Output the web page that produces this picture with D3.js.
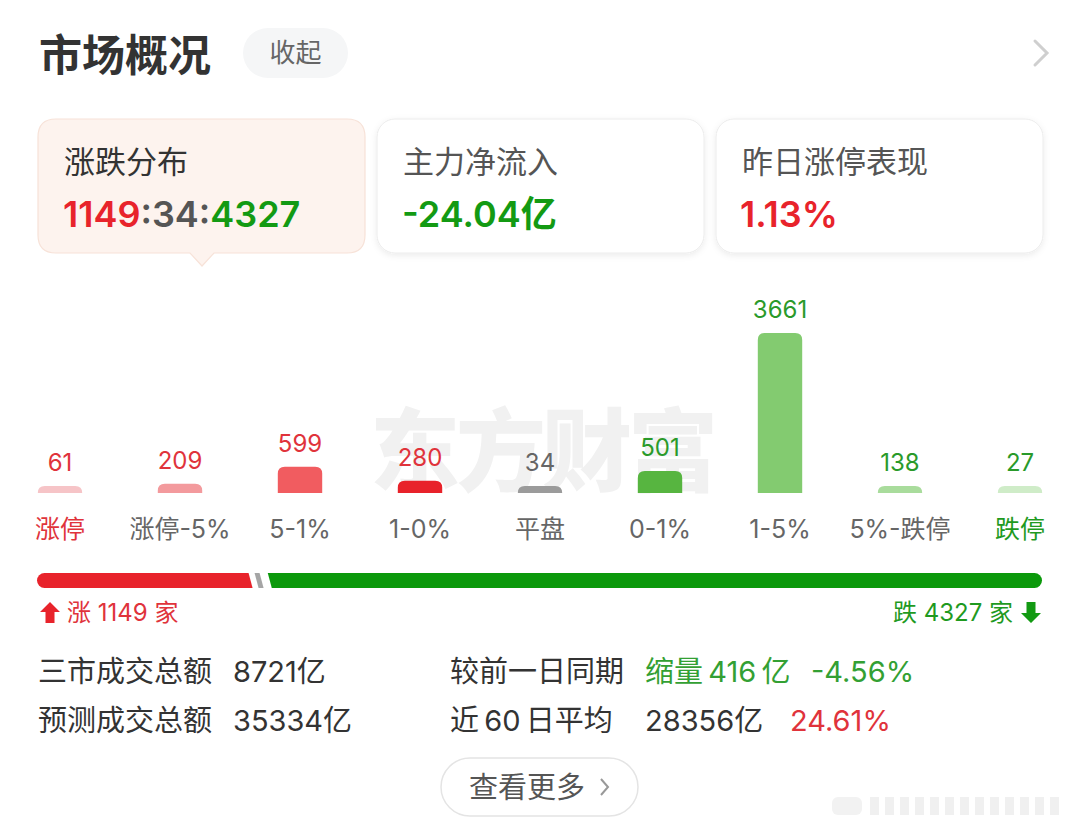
<!DOCTYPE html>
<html><head><meta charset="utf-8">
<script src="https://cdn.jsdelivr.net/npm/d3@7"></script>
<style>
html,body{margin:0;padding:0;background:#fff;}
svg{display:block;font-family:Inter,"Noto Sans CJK SC","Noto Sans",sans-serif;}
</style></head><body>
<svg id="c" width="1080" height="828"></svg>
<script>
// ---- data ----
const categories = ["涨停","涨停-5%","5-1%","1-0%","平盘","0-1%","1-5%","5%-跌停","跌停"];
const counts = [61,209,599,280,34,501,3661,138,27];
const upCount = 1149, flatCount = 34, downCount = 4327;
const cardTitles = ["涨跌分布","主力净流入","昨日涨停表现"];
const netInflow = "-24.04亿";
const limitUpPerf = "1.13%";
const turnover = "8721亿", forecast = "35334亿";
const vsPrev = "缩量\u2009416\u2009亿", vsPrevPct = "-4.56%";
const avg60 = "28356亿", avg60Pct = "24.61%";

// ---- styles ----
const barColors = ["#f6c4c7","#f39a9d","#f15c60","#e8222a","#9b9b9b","#57b540","#83cb70","#a9dc9c","#cfecc8"];
const valColors = ["#e0333b","#e0333b","#e0333b","#e0333b","#666","#2a9a2a","#2a9a2a","#2a9a2a","#2a9a2a"];
const catColors = ["#e0333b","#666","#666","#666","#666","#666","#666","#666","#1f9a1f"];
const RED="#e8232b", GREEN="#139a13", DARK="#333";

const svg = d3.select("#c");

// header
svg.append("text").attr("x",39).attr("y",71).attr("font-size",43).attr("font-weight",700).attr("fill","#333").text("市场概况");
svg.append("rect").attr("x",243).attr("y",28).attr("width",105).attr("height",50).attr("rx",25).attr("fill","#f5f6f7");
svg.append("text").attr("x",295.5).attr("y",62).attr("text-anchor","middle").attr("font-size",26).attr("fill","#666").text("收起");
svg.append("path").attr("d","M1035,41 L1047,53 L1035,65").attr("fill","none").attr("stroke","#cfcfcf").attr("stroke-width",3).attr("stroke-linecap","round");

// cards
const defs = svg.append("defs");
const f = defs.append("filter").attr("id","sh").attr("x","-10%").attr("y","-10%").attr("width","120%").attr("height","130%");
f.append("feDropShadow").attr("dx",0).attr("dy",2).attr("stdDeviation",3).attr("flood-color","#000").attr("flood-opacity",0.08);
const cardX = [38,377,716], cardW = 327, cardY = 119, cardH = 134;
cardX.forEach((x,i)=>{
  if(i===0){
    svg.append("path").attr("d",`M${x+18},${cardY} H${x+cardW-18} Q${x+cardW},${cardY} ${x+cardW},${cardY+18} V${cardY+cardH-18} Q${x+cardW},${cardY+cardH} ${x+cardW-18},${cardY+cardH} H${x+176} L${x+164},${cardY+cardH+13} L${x+152},${cardY+cardH} H${x+18} Q${x},${cardY+cardH} ${x},${cardY+cardH-18} V${cardY+18} Q${x},${cardY} ${x+18},${cardY} Z`)
      .attr("fill","#fdf3ee").attr("stroke","#f7e2d8").attr("stroke-width",1.2);
  } else {
    svg.append("rect").attr("x",x).attr("y",cardY).attr("width",cardW).attr("height",cardH).attr("rx",18)
      .attr("fill","#fff").attr("stroke","#ececec").attr("stroke-width",1).attr("filter","url(#sh)");
  }
  svg.append("text").attr("x",x+26).attr("y",173).attr("font-size",31).attr("fill",i===0?"#333":"#555").text(cardTitles[i]);
});
const v1 = svg.append("text").attr("x",63).attr("y",227).attr("font-size",36).attr("font-weight",600);
v1.append("tspan").attr("fill",RED).text(upCount);
v1.append("tspan").attr("fill","#555").text(":"+flatCount+":");
v1.append("tspan").attr("fill",GREEN).text(downCount);
svg.append("text").attr("x",402).attr("y",227).attr("font-size",36).attr("font-weight",600).attr("fill",GREEN).text(netInflow);
svg.append("text").attr("x",740).attr("y",227).attr("font-size",36).attr("font-weight",600).attr("fill",RED).text(limitUpPerf);

// watermark
svg.append("text").attr("x",542).attr("y",484).attr("text-anchor","middle").attr("font-size",90).attr("font-weight",900)
  .attr("fill","#f1f1f1").attr("letter-spacing",-4).attr("font-family","Noto Sans CJK SC").text("东方财富");

// bars
const x = d3.scaleBand().domain(categories).range([0,1080]).paddingInner(0.63).paddingOuter(0.315);
const baseY = 493;
const h = d3.scaleLinear().domain([0, d3.max(counts)]).range([0,160]);
const bw = x.bandwidth();
const data = categories.map((c,i)=>({c,v:counts[i],i}));
const bh = d => Math.max(7, h(d.v));
function topRound(x0,y0,w,hh,r){
  r=Math.min(r,hh);
  return `M${x0},${y0+hh} V${y0+r} Q${x0},${y0} ${x0+r},${y0} H${x0+w-r} Q${x0+w},${y0} ${x0+w},${y0+r} V${y0+hh} Z`;
}
svg.append("g").selectAll("path").data(data).join("path")
  .attr("d",d=>topRound(x(d.c), baseY-bh(d), bw, bh(d), 7))
  .attr("fill",d=>barColors[d.i]);
svg.append("g").selectAll("text").data(data).join("text")
  .attr("x",d=>x(d.c)+bw/2).attr("y",d=>baseY-bh(d)-15)
  .attr("text-anchor","middle").attr("font-size",24).attr("fill",d=>valColors[d.i]).text(d=>d.v);
svg.append("g").selectAll("text").data(data).join("text")
  .attr("x",d=>x(d.c)+bw/2).attr("y",538)
  .attr("text-anchor","middle").attr("font-size",25).attr("fill",d=>catColors[d.i]).text(d=>d.c);

// ratio bar
const total = upCount+flatCount+downCount;
const rx = d3.scaleLinear().domain([0,total]).range([37,1042]);
const by0 = 573, by1 = 588, sl = 4, r = 7.5;
const redEnd = rx(upCount)+2;
const greenStart = rx(upCount+flatCount)+15;
svg.append("path").attr("d",`M${37+r},${by0} H${redEnd} L${redEnd+sl},${by1} H${37+r} A${r},${r} 0 0 1 ${37+r},${by0} Z`).attr("fill",RED);
svg.append("path").attr("d",`M${redEnd+6},${by0} H${redEnd+11} L${redEnd+11+sl},${by1} H${redEnd+6+sl} Z`).attr("fill","#a5a5a5");
svg.append("path").attr("d",`M${greenStart},${by0} H${1042-r} A${r},${r} 0 0 1 ${1042-r},${by1} H${greenStart+sl} Z`).attr("fill","#0b990b");

// up / down labels
svg.append("path").attr("d","M50,602 L60,612 L54.5,612 L54.5,623 L45.5,623 L45.5,612 L40,612 Z").attr("fill",RED);
svg.append("text").attr("x",67).attr("y",621).attr("font-size",24).attr("fill","#e0333b").text("涨 "+upCount+" 家");
svg.append("path").attr("d","M1031,623 L1041,613 L1035.5,613 L1035.5,602 L1026.5,602 L1026.5,613 L1021,613 Z").attr("fill",GREEN);
svg.append("text").attr("x",1013).attr("y",621).attr("text-anchor","end").attr("font-size",24).attr("fill","#1f9a1f").text("跌 "+downCount+" 家");

// stats
const row1 = 682, row2 = 731, fs = 29;
svg.append("text").attr("x",38).attr("y",row1).attr("font-size",fs).attr("fill",DARK).text("三市成交总额");
svg.append("text").attr("x",233).attr("y",row1).attr("font-size",fs).attr("fill",DARK).text(turnover);
svg.append("text").attr("x",38).attr("y",row2).attr("font-size",fs).attr("fill",DARK).text("预测成交总额");
svg.append("text").attr("x",233).attr("y",row2).attr("font-size",fs).attr("fill",DARK).text(forecast);
svg.append("text").attr("x",450).attr("y",row1).attr("font-size",fs).attr("fill",DARK).text("较前一日同期");
svg.append("text").attr("x",645).attr("y",row1).attr("font-size",fs).attr("fill","#33a033").text(vsPrev);
svg.append("text").attr("x",811).attr("y",row1).attr("font-size",fs).attr("fill","#33a033").text(vsPrevPct);
svg.append("text").attr("x",450).attr("y",row2).attr("font-size",fs).attr("fill",DARK).text("近\u200960\u2009日平均");
svg.append("text").attr("x",645).attr("y",row2).attr("font-size",fs).attr("fill",DARK).text(avg60);
svg.append("text").attr("x",790).attr("y",row2).attr("font-size",fs).attr("fill","#e0333b").text(avg60Pct);

// more button
svg.append("rect").attr("x",441).attr("y",758).attr("width",197).attr("height",58).attr("rx",29).attr("fill","#fff").attr("stroke","#e4e4e4").attr("stroke-width",1.5);
svg.append("text").attr("x",469).attr("y",798).attr("font-size",29).attr("fill","#555").text("查看更多");
svg.append("path").attr("d","M601,779 L608,787 L601,795").attr("fill","none").attr("stroke","#999").attr("stroke-width",2);

// faint corner artifact
const stripes = d3.range(0,13);
svg.append("g").selectAll("rect").data(stripes).join("rect")
  .attr("x",d=>870+d*15).attr("y",797).attr("width",9).attr("height",18).attr("fill","#f0f0f0");
svg.append("rect").attr("x",832).attr("y",797).attr("width",30).attr("height",18).attr("rx",6).attr("fill","#f2f2f2");
</script>
</body></html>
